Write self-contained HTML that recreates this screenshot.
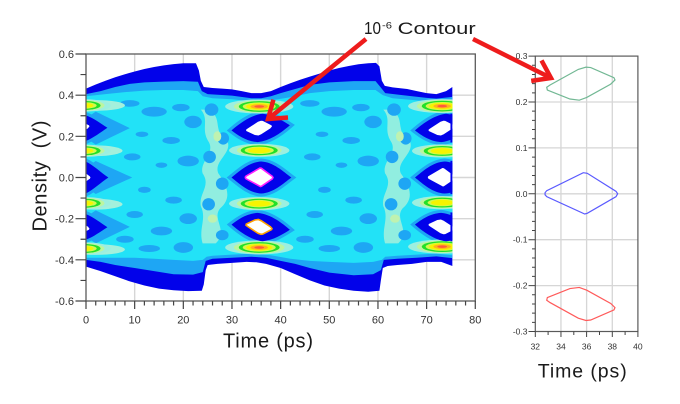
<!DOCTYPE html>
<html><head><meta charset="utf-8"><style>
html,body{margin:0;padding:0;background:#fff;}
svg{display:block;font-family:"Liberation Sans",Arial,sans-serif;}
</style></head><body>
<svg width="680" height="404" viewBox="0 0 680 404" xmlns="http://www.w3.org/2000/svg">
<defs>
  <clipPath id="cl" clipPathUnits="userSpaceOnUse"><rect x="0" y="-0.6" width="75.3" height="1.2"/></clipPath>
  <path id="eM" vector-effect="non-scaling-stroke" d="M-6.1,0 C-4.5,0.03 -2.5,0.075 0,0.078 C2.5,0.075 4.5,0.03 6.2,0 C4.5,-0.03 2.5,-0.075 0,-0.078 C-2.5,-0.075 -4.5,-0.03 -6.1,0 Z"/>
  <path id="eU" vector-effect="non-scaling-stroke" d="M-6.1,0.229 C-4.5,0.262 -2,0.305 0.3,0.31 C2.5,0.305 4.5,0.275 5.9,0.254 C4.5,0.225 2,0.178 -0.7,0.172 C-3,0.175 -4.8,0.205 -6.1,0.229 Z"/>
  <path id="eL" vector-effect="non-scaling-stroke" d="M-6.1,-0.229 C-4.5,-0.262 -2,-0.305 0.3,-0.31 C2.5,-0.305 4.5,-0.275 5.9,-0.254 C4.5,-0.225 2,-0.178 -0.7,-0.172 C-3,-0.175 -4.8,-0.205 -6.1,-0.229 Z"/>
  <path id="lU" vector-effect="non-scaling-stroke" d="M-3,0.305 L0,0.302 C1.5,0.29 3,0.262 4.4,0.242 C3,0.22 1.5,0.192 0,0.178 L-3,0.175 Z"/>
  <path id="lM" vector-effect="non-scaling-stroke" d="M-3,0.08 L0,0.077 C1.5,0.06 3,0.025 4.6,0 C3,-0.025 1.5,-0.06 0,-0.077 L-3,-0.08 Z"/>
  <path id="lL" vector-effect="non-scaling-stroke" d="M-3,-0.305 L0,-0.302 C1.5,-0.29 3,-0.262 4.4,-0.242 C3,-0.22 1.5,-0.192 0,-0.178 L-3,-0.175 Z"/>
  <polygon id="wM" vector-effect="non-scaling-stroke" points="32.76,0.0024 32.89,0.0068 35.74,0.046 36.05,0.0447 38.29,0.0054 38.42,0 38.29,-0.0063 36.05,-0.0425 35.85,-0.044 32.89,-0.0063 32.76,-0.002"/>
  <polygon id="wU" vector-effect="non-scaling-stroke" points="32.89,0.232 32.94,0.226 34.70,0.2065 35.43,0.204 36.01,0.210 37.88,0.239 38.21,0.248 38.13,0.253 36.32,0.275 35.95,0.276 35.35,0.271 33.15,0.237"/>
  <polygon id="wL" vector-effect="non-scaling-stroke" points="32.89,-0.232 32.94,-0.226 34.70,-0.2065 35.43,-0.204 36.01,-0.210 37.88,-0.239 38.21,-0.248 38.13,-0.253 36.32,-0.275 35.95,-0.276 35.35,-0.271 33.15,-0.237"/>
  <g id="rA">
    <ellipse rx="7" ry="0.034" fill="#9cefe0"/>
    <ellipse rx="5.2" ry="0.03" fill="#bdf5a0"/>
    <ellipse rx="4.2" ry="0.026" fill="#22e028"/>
    <ellipse rx="3.4" ry="0.02" fill="#d4f84c"/>
    <ellipse rx="2.7" ry="0.016" fill="#f6f400"/>
    <ellipse rx="1.8" ry="0.011" fill="#ffb020"/>
    <ellipse rx="1" ry="0.006" fill="#ff5a3a"/>
  </g>
  <g id="rB">
    <ellipse rx="6.2" ry="0.032" fill="#9cefe0"/>
    <ellipse rx="4.6" ry="0.028" fill="#bdf5a0"/>
    <ellipse rx="3.8" ry="0.024" fill="#22e028"/>
    <ellipse rx="3" ry="0.018" fill="#d4f84c"/>
    <ellipse rx="2.3" ry="0.014" fill="#f6f400"/>
  </g>
  <g id="rC">
    <ellipse rx="5.5" ry="0.03" fill="#9cefe0"/>
    <ellipse rx="4.2" ry="0.026" fill="#bdf5a0"/>
    <ellipse rx="3.4" ry="0.022" fill="#22e028"/>
    <ellipse rx="2.6" ry="0.016" fill="#d4f84c"/>
    <ellipse rx="1.9" ry="0.012" fill="#f6f400"/>
  </g>
  <g id="mb">
    <ellipse cx="9" cy="0.36" rx="2" ry="0.016"/>
    <ellipse cx="14" cy="0.32" rx="2.6" ry="0.024"/>
    <ellipse cx="19.5" cy="0.34" rx="1.8" ry="0.018"/>
    <ellipse cx="11.5" cy="0.21" rx="1.3" ry="0.013"/>
    <ellipse cx="17.5" cy="0.18" rx="1.8" ry="0.017"/>
    <ellipse cx="22" cy="0.27" rx="1.8" ry="0.03"/>
    <ellipse cx="9.5" cy="0.1" rx="1.7" ry="0.017"/>
    <ellipse cx="15.5" cy="0.06" rx="1.2" ry="0.013"/>
    <ellipse cx="21" cy="0.08" rx="2.2" ry="0.026"/>
    <ellipse cx="12" cy="-0.06" rx="1.3" ry="0.015"/>
    <ellipse cx="18" cy="-0.11" rx="1.7" ry="0.017"/>
    <ellipse cx="10" cy="-0.18" rx="1.7" ry="0.017"/>
    <ellipse cx="15.5" cy="-0.26" rx="2.2" ry="0.021"/>
    <ellipse cx="21" cy="-0.2" rx="1.8" ry="0.026"/>
    <ellipse cx="8" cy="-0.3" rx="1.8" ry="0.017"/>
    <ellipse cx="13" cy="-0.345" rx="2.2" ry="0.017"/>
    <ellipse cx="20" cy="-0.34" rx="2" ry="0.026"/>
  </g>
  <g id="mb2">
    <ellipse cx="25.8" cy="0.33" rx="1.4" ry="0.03"/>
    <ellipse cx="28.2" cy="0.19" rx="1.2" ry="0.03"/>
    <ellipse cx="25.4" cy="0.1" rx="1.3" ry="0.03"/>
    <ellipse cx="28" cy="-0.03" rx="1.3" ry="0.03"/>
    <ellipse cx="25.2" cy="-0.13" rx="1.3" ry="0.03"/>
    <ellipse cx="28" cy="-0.28" rx="1.3" ry="0.025"/>
  </g>
  <g id="pb">
    <path d="M25.5,0.33 C27.5,0.3 26,0.22 27.8,0.18 C28.5,0.12 26.2,0.08 26.8,0.02 C27.8,-0.04 28.4,-0.1 27,-0.15 C26,-0.2 28,-0.26 26.5,-0.32 L25,-0.32 C24.5,-0.25 25.5,-0.2 24.8,-0.14 C24.5,-0.08 26,-0.04 25,0.02 C24.6,0.08 26.6,0.12 25.6,0.18 C24.8,0.24 25.8,0.28 24.8,0.33 Z"/>
  </g>
</defs>

<!-- LEFT PLOT grid -->
<g stroke="#d6d6d6" stroke-width="1.4">
  <line x1="134.66" y1="54" x2="134.66" y2="301"/>
  <line x1="183.32" y1="54" x2="183.32" y2="301"/>
  <line x1="231.98" y1="54" x2="231.98" y2="301"/>
  <line x1="280.64" y1="54" x2="280.64" y2="301"/>
  <line x1="329.3" y1="54" x2="329.3" y2="301"/>
  <line x1="377.96" y1="54" x2="377.96" y2="301"/>
  <line x1="426.62" y1="54" x2="426.62" y2="301"/>
  <line x1="86" y1="95.17" x2="475.3" y2="95.17"/>
  <line x1="86" y1="136.33" x2="475.3" y2="136.33"/>
  <line x1="86" y1="177.5" x2="475.3" y2="177.5"/>
  <line x1="86" y1="218.67" x2="475.3" y2="218.67"/>
  <line x1="86" y1="259.83" x2="475.3" y2="259.83"/>
</g>

<!-- EYE DIAGRAM -->
<g transform="translate(86,177.5) scale(4.866,-205.8)">
<g clip-path="url(#cl)">
  <polygon fill="#0202ea" points="0,0.432 2,0.452 4,0.47 6,0.487 8,0.502 10,0.515 12,0.527 14,0.537 16,0.545 18,0.551 20,0.555 22.6,0.555 23.2,0.52 23.6,0.47 24.2,0.44 26,0.435 28,0.432 30,0.428 32,0.42 34,0.41 36,0.41 38,0.42 40,0.44 42,0.458 44,0.475 46,0.49 48,0.505 50,0.52 52,0.532 54,0.542 56,0.55 58,0.555 59.6,0.557 60.3,0.54 60.8,0.47 61.4,0.445 63,0.438 66,0.43 68,0.42 70,0.41 72,0.405 74,0.42 75.3,0.44 75.3,-0.43 73,-0.41 70,-0.41 67,-0.42 64,-0.425 62,-0.43 61,-0.44 60.6,-0.5 60.3,-0.55 58,-0.555 55,-0.55 52,-0.54 49,-0.525 46,-0.5 43,-0.47 40,-0.44 37,-0.42 35,-0.412 33,-0.41 30,-0.415 27,-0.42 25,-0.425 24.6,-0.45 24.2,-0.52 23.8,-0.55 21,-0.552 18,-0.548 15,-0.54 12,-0.525 9,-0.505 6,-0.48 3,-0.455 0,-0.433"/>
  <polygon fill="#1ea6f4" points="0,0.405 3,0.42 6,0.44 9,0.455 12,0.462 16,0.466 20,0.468 23,0.465 23.8,0.42 25,0.405 30,0.398 34,0.385 36,0.385 38,0.395 40,0.41 43,0.43 46,0.45 50,0.462 55,0.468 59.5,0.468 60.5,0.44 61.5,0.41 65,0.4 70,0.387 72,0.383 75.3,0.392 75.3,-0.392 72,-0.383 68,-0.39 64,-0.395 61.2,-0.4 60.6,-0.45 59,-0.47 55,-0.475 50,-0.462 46,-0.44 43,-0.42 40,-0.405 37,-0.39 34,-0.385 30,-0.39 26,-0.395 24.6,-0.405 24,-0.46 22,-0.472 18,-0.47 14,-0.455 10,-0.44 6,-0.425 3,-0.41 0,-0.4"/>
  <polygon fill="#22e2f7" points="0,0.395 4,0.405 8,0.415 12,0.422 16,0.425 20,0.425 23,0.42 24,0.395 26,0.385 30,0.38 34,0.37 38,0.375 42,0.39 46,0.41 50,0.42 55,0.425 59.5,0.425 61,0.4 63,0.385 68,0.375 72,0.37 75.3,0.378 75.3,-0.378 72,-0.37 68,-0.375 64,-0.38 61.5,-0.385 60.8,-0.4 59,-0.41 55,-0.415 50,-0.41 46,-0.405 42,-0.395 38,-0.378 34,-0.37 30,-0.375 26,-0.38 24.8,-0.385 24,-0.4 22,-0.405 18,-0.4 14,-0.395 10,-0.39 6,-0.39 3,-0.39 0,-0.39"/>
  <g fill="#a4f0dc" fill-opacity="0.85">
    <use href="#pb" transform="translate(26.3,0) scale(1.8,1) translate(-26.3,0)"/>
    <use href="#pb" transform="translate(63.8,0) scale(1.8,1) translate(-26.3,0)"/>
  </g>
  <g fill="#1ea6f4">
    <use href="#mb"/>
    <use href="#mb" x="37"/>
    <use href="#mb2"/>
    <use href="#mb2" x="37.5"/>
    <polygon points="-3,0.24 2,0.32 9,0.24 2,0.16"/>
    <polygon points="-3,0 2,0.08 9.5,0 2,-0.08"/>
    <polygon points="-3,-0.24 2,-0.16 9,-0.24 2,-0.32"/>
  </g>
  <g fill="#a4f0dc">
    <ellipse cx="2" cy="0.35" rx="6" ry="0.026"/>
    <ellipse cx="2" cy="-0.35" rx="6" ry="0.026"/>
    <ellipse cx="2" cy="0.13" rx="5.5" ry="0.026"/>
    <ellipse cx="2" cy="-0.13" rx="5.5" ry="0.026"/>
  </g>
  <g fill="#bff2b0">
    <ellipse cx="27" cy="0.2" rx="0.8" ry="0.025"/>
    <ellipse cx="26" cy="-0.2" rx="1" ry="0.02"/>
    <ellipse cx="64.5" cy="0.2" rx="0.8" ry="0.025"/>
    <ellipse cx="63.5" cy="-0.2" rx="1" ry="0.02"/>
  </g>
  <!-- eye halos -->
  <g fill="#1ea6f4" stroke="#1ea6f4" stroke-width="6">
    <use href="#eM" x="36"/><use href="#eU" x="36"/><use href="#eL" x="36"/>
    <use href="#eM" x="73.7"/><use href="#eU" x="73.7"/><use href="#eL" x="73.7"/>
    <use href="#lU"/><use href="#lM"/><use href="#lL"/>
  </g>
  <!-- rails -->
  <use href="#rA" transform="translate(35.6,0.345)"/>
  <use href="#rB" transform="translate(35.6,0.132)"/>
  <use href="#rB" transform="translate(35.6,-0.127)"/>
  <use href="#rA" transform="translate(35.6,-0.34)"/>
  <use href="#rC" transform="translate(-0.4,0.35)"/>
  <use href="#rC" transform="translate(-0.4,0.13)"/>
  <use href="#rC" transform="translate(-0.4,-0.125)"/>
  <use href="#rC" transform="translate(-0.4,-0.345)"/>
  <use href="#rA" transform="translate(73.2,0.347)"/>
  <use href="#rB" transform="translate(73.2,0.129)"/>
  <use href="#rB" transform="translate(73.2,-0.122)"/>
  <use href="#rA" transform="translate(73.2,-0.336)"/>
  <!-- dark eyes -->
  <g fill="#0202ea">
    <use href="#eM" x="36"/><use href="#eU" x="36"/><use href="#eL" x="36"/>
    <use href="#eM" x="73.7"/><use href="#eU" x="73.7"/><use href="#eL" x="73.7"/>
    <use href="#lU"/><use href="#lM"/><use href="#lL"/>
  </g>
  <!-- white diamonds -->
  <g fill="#ffffff">
    <use href="#wU"/>
    <use href="#wM" stroke="#ff20ff" stroke-width="1.6"/>
    <use href="#wL" stroke="#ffa000" stroke-width="1.6"/>
    <use href="#wU" x="-37.5"/><use href="#wM" x="-37.5"/><use href="#wL" x="-37.5"/>
    <use href="#wU" x="37.5"/><use href="#wM" x="37.5"/><use href="#wL" x="37.5"/>
  </g>
  <g fill="#0202ea">
    <rect x="74.9" y="0.17" width="0.4" height="0.14"/>
    <rect x="74.9" y="-0.08" width="0.4" height="0.16"/>
    <rect x="74.9" y="-0.31" width="0.4" height="0.14"/>
  </g>
</g>
</g>

<!-- LEFT PLOT frame & ticks -->
<rect x="86" y="54" width="389.3" height="247" fill="none" stroke="#5a5a5a" stroke-width="1.3"/>
<g stroke="#444" stroke-width="1.2">
  <path d="M75.5,54H86M75.5,95.17H86M75.5,136.33H86M75.5,177.5H86M75.5,218.67H86M75.5,259.83H86M75.5,301H86"/>
  <path d="M80.5,74.58H86M80.5,115.75H86M80.5,156.92H86M80.5,198.08H86M80.5,239.25H86M80.5,280.42H86"/>
  <path d="M86,301V309M134.66,301V309M183.32,301V309M231.98,301V309M280.64,301V309M329.3,301V309M377.96,301V309M426.62,301V309M475.28,301V309"/>
  <path d="M95.73,301V305.5M105.46,301V305.5M115.2,301V305.5M124.93,301V305.5M144.39,301V305.5M154.12,301V305.5M163.86,301V305.5M173.59,301V305.5M193.05,301V305.5M202.78,301V305.5M212.52,301V305.5M222.25,301V305.5M241.71,301V305.5M251.44,301V305.5M261.18,301V305.5M270.91,301V305.5M290.37,301V305.5M300.1,301V305.5M309.84,301V305.5M319.57,301V305.5M339.03,301V305.5M348.76,301V305.5M358.5,301V305.5M368.23,301V305.5M387.69,301V305.5M397.42,301V305.5M407.16,301V305.5M416.89,301V305.5M436.35,301V305.5M446.08,301V305.5M455.82,301V305.5M465.55,301V305.5"/>
</g>
<g font-size="11" fill="#333" text-anchor="end">
  <text x="74" y="58">0.6</text>
  <text x="74" y="99.2">0.4</text>
  <text x="74" y="140.3">0.2</text>
  <text x="74" y="181.5">0.0</text>
  <text x="74" y="222.7">-0.2</text>
  <text x="74" y="263.8">-0.4</text>
  <text x="74" y="305">-0.6</text>
</g>
<g font-size="11" fill="#333" text-anchor="middle">
  <text x="86" y="323.5">0</text>
  <text x="134.66" y="323.5">10</text>
  <text x="183.32" y="323.5">20</text>
  <text x="231.98" y="323.5">30</text>
  <text x="280.64" y="323.5">40</text>
  <text x="329.3" y="323.5">50</text>
  <text x="377.96" y="323.5">60</text>
  <text x="426.62" y="323.5">70</text>
  <text x="475.28" y="323.5">80</text>
</g>
<text x="223" y="347.7" font-size="20" fill="#1a1a1a" textLength="90" lengthAdjust="spacing">Time (ps)</text>
<text transform="translate(46.5,176) rotate(-90)" font-size="20" fill="#1a1a1a" text-anchor="middle" textLength="111" lengthAdjust="spacing">Density&#160; (V)</text>

<!-- RIGHT PLOT -->
<g stroke="#d6d6d6" stroke-width="1.3">
  <line x1="560.96" y1="56.1" x2="560.96" y2="331.5"/>
  <line x1="586.6" y1="56.1" x2="586.6" y2="331.5"/>
  <line x1="612.3" y1="56.1" x2="612.3" y2="331.5"/>
  <line x1="535.3" y1="102" x2="637.9" y2="102"/>
  <line x1="535.3" y1="147.9" x2="637.9" y2="147.9"/>
  <line x1="535.3" y1="193.8" x2="637.9" y2="193.8"/>
  <line x1="535.3" y1="239.7" x2="637.9" y2="239.7"/>
  <line x1="535.3" y1="285.6" x2="637.9" y2="285.6"/>
</g>
<g transform="translate(124.74,193.8) scale(12.83,-459)" fill="none" stroke-width="1.2">
  <use href="#wU" stroke="#72b894"/>
  <use href="#wM" stroke="#5a5aff"/>
  <use href="#wL" stroke="#ff5a5a"/>
</g>
<rect x="535.3" y="56.1" width="102.6" height="275.4" fill="none" stroke="#5a5a5a" stroke-width="1.2"/>
<g stroke="#444" stroke-width="1">
  <path d="M528.5,56.1H535.3M528.5,102H535.3M528.5,147.9H535.3M528.5,193.8H535.3M528.5,239.7H535.3M528.5,285.6H535.3M528.5,331.5H535.3"/>
  <path d="M532,65.28H535.3M532,74.46H535.3M532,83.64H535.3M532,92.82H535.3M532,111.18H535.3M532,120.36H535.3M532,129.54H535.3M532,138.72H535.3M532,157.08H535.3M532,166.26H535.3M532,175.44H535.3M532,184.62H535.3M532,202.98H535.3M532,212.16H535.3M532,221.34H535.3M532,230.52H535.3M532,248.88H535.3M532,258.06H535.3M532,267.24H535.3M532,276.42H535.3M532,294.78H535.3M532,303.96H535.3M532,313.14H535.3M532,322.32H535.3"/>
  <path d="M535.3,331.5V337M560.96,331.5V337M586.6,331.5V337M612.3,331.5V337M637.9,331.5V337"/>
  <path d="M548.1,331.5V335M573.8,331.5V335M599.5,331.5V335M625.1,331.5V335"/>
</g>
<g font-size="8.5" fill="#333" text-anchor="end">
  <text x="527.5" y="59">0.3</text>
  <text x="527.5" y="105">0.2</text>
  <text x="527.5" y="150.9">0.1</text>
  <text x="527.5" y="196.8">0.0</text>
  <text x="527.5" y="242.7">-0.1</text>
  <text x="527.5" y="288.6">-0.2</text>
  <text x="527.5" y="334.5">-0.3</text>
</g>
<g font-size="8.5" fill="#333" text-anchor="middle">
  <text x="535.3" y="349.3">32</text>
  <text x="560.96" y="349.3">34</text>
  <text x="586.6" y="349.3">36</text>
  <text x="612.3" y="349.3">38</text>
  <text x="637.9" y="349.3">40</text>
</g>
<text x="537.7" y="377.7" font-size="19.5" fill="#1a1a1a" textLength="89" lengthAdjust="spacing">Time (ps)</text>

<!-- Title -->
<text x="364" y="34" font-size="17.5" fill="#1a1a1a" textLength="17" lengthAdjust="spacingAndGlyphs">10</text>
<text x="382" y="28.5" font-size="9" fill="#1a1a1a" textLength="10" lengthAdjust="spacingAndGlyphs">-6</text>
<text x="397.7" y="34" font-size="17" fill="#1a1a1a" textLength="78" lengthAdjust="spacingAndGlyphs">Contour</text>

<!-- Arrows -->
<g stroke="#ee1c1c" stroke-width="4.5" fill="none" stroke-linecap="butt" stroke-linejoin="miter">
  <line x1="366" y1="39" x2="270" y2="117.5"/>
  <polyline points="288,117.5 268,119 273.4,99.7"/>
  <line x1="473" y1="39" x2="548" y2="76.5"/>
  <polyline points="541.5,60.4 551,78 531.2,80.9"/>
</g>
</svg>
</body></html>
